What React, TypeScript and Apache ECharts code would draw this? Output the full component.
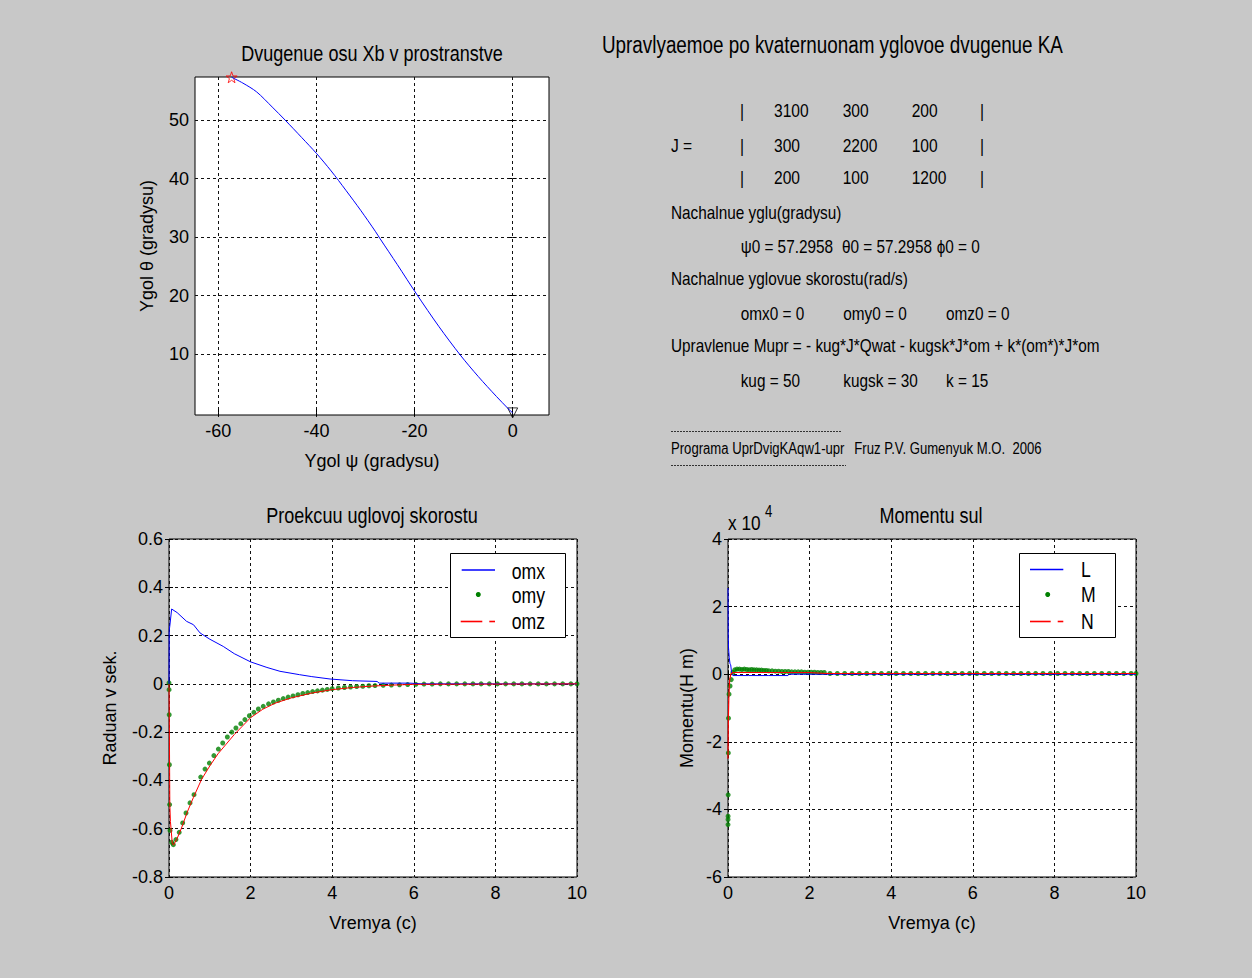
import React, { useEffect, useRef } from "react";
import * as echarts from "echarts";

const FONT = '"Liberation Sans", Arial, sans-serif';
const SX = 0.82; // horizontal condensing of texts (narrow face look)

// ---------- Top-left: trajectory of Xb axis ----------
const psiDeg = [-57.3, -55.0, -52.2, -49.0, -46.4, -43.0, -40.0, -37.0, -34.0, -31.0, -28.0, -27.0, -23.5, -19.6, -15.0, -10.7, -7.0, -3.3, -1.0, 0];
const thetaDeg = [57.3, 56.3, 54.8, 52.2, 50.0, 47.0, 44.3, 41.3, 38.0, 34.6, 31.0, 29.7, 25.3, 20.3, 14.7, 9.9, 6.2, 2.8, 0.8, 0];
const startPoint = [-57.2958, 57.2958];
const endPoint = [0, 0];
const xTicksTL = [-60, -40, -20, 0];
const yTicksTL = [10, 20, 30, 40, 50];

// ---------- Bottom-left: angular velocity projections ----------
const tOmx = [0, 0.005, 0.02, 0.065, 0.2, 0.43, 0.6, 0.76, 1.0, 1.33, 1.6, 2.0, 2.4, 2.72, 3.2, 3.5, 3.95, 4.5, 5.1, 5.15, 5.9, 6.2, 10];
const omx = [0, 0.22, 0.24, 0.31, 0.295, 0.259, 0.245, 0.211, 0.185, 0.155, 0.125, 0.091, 0.068, 0.052, 0.038, 0.03, 0.02, 0.013, 0.01, 0.003, 0.003, 0, 0];

const tOmy = [0, 0.002, 0.005, 0.01, 0.015, 0.025, 0.065, 0.106, 0.17, 0.25, 0.335, 0.417, 0.515, 0.613, 0.777, 0.883, 0.989, 1.1, 1.21, 1.317, 1.43, 1.54, 1.64, 1.76, 1.86, 1.97, 2.08, 2.19, 2.31, 2.44, 2.56, 2.68, 2.8, 2.92, 3.04, 3.16, 3.28, 3.4, 3.52, 3.64, 3.76, 3.88, 4.0, 4.15, 4.3, 4.45, 4.6, 4.75, 4.9, 5.05, 5.25, 5.45, 5.65, 5.85, 6.05, 6.25, 6.45, 6.65, 6.85, 7.05, 7.25, 7.45, 7.65, 7.85, 8.05, 8.25, 8.45, 8.65, 8.85, 9.05, 9.25, 9.45, 9.65, 9.85, 10.0];
const omy = [0.004, -0.024, -0.128, -0.335, -0.5, -0.607, -0.656, -0.666, -0.645, -0.615, -0.576, -0.535, -0.493, -0.459, -0.386, -0.353, -0.328, -0.297, -0.27, -0.245, -0.22, -0.2, -0.183, -0.165, -0.148, -0.132, -0.118, -0.104, -0.093, -0.083, -0.075, -0.068, -0.061, -0.055, -0.05, -0.045, -0.04, -0.036, -0.032, -0.029, -0.026, -0.023, -0.02, -0.017, -0.015, -0.013, -0.011, -0.01, -0.008, -0.007, -0.006, -0.005, -0.004, -0.003, -0.002, -0.001, -0.001, 0, 0, 0, 0, 0, 0, 0, 0, 0, 0, 0, 0, 0, 0, 0, 0, 0, 0];

const tOmz = [0, 0.01, 0.02, 0.035, 0.05, 0.08, 0.11, 0.2, 0.3, 0.45, 0.6, 0.8, 1.0, 1.2, 1.4, 1.6, 1.8, 2.0, 2.3, 2.6, 3.0, 3.5, 4.0, 4.5, 5.0, 5.5, 6.0, 10];
const omz = [0, -0.2, -0.5, -0.57, -0.6, -0.66, -0.668, -0.64, -0.6, -0.53, -0.47, -0.395, -0.34, -0.29, -0.25, -0.21, -0.175, -0.14, -0.105, -0.08, -0.058, -0.038, -0.024, -0.015, -0.009, -0.005, -0.002, 0];

// ---------- Bottom-right: control moments (x 10^4 N m) ----------
const tL = [0, 0.005, 0.012, 0.017, 0.03, 0.05, 0.066, 0.09, 0.12, 0.5, 1.0, 1.47, 1.5, 10];
const momL = [2.55, 1.2, 0.8, 0.78, 0.5, 0.3, 0.28, 0.02, -0.04, -0.04, -0.04, -0.04, 0, 0];

const tM = [0, 0.001, 0.002, 0.004, 0.008, 0.012, 0.025, 0.05, 0.08, 0.12, 0.165, 0.22, 0.28, 0.34, 0.4, 0.46, 0.52, 0.58, 0.64, 0.7, 0.76, 0.82, 0.88, 0.94, 1.0, 1.08, 1.16, 1.24, 1.32, 1.4, 1.48, 1.56, 1.64, 1.72, 1.8, 1.88, 1.96, 2.04, 2.12, 2.2, 2.28, 2.36, 2.5, 2.68, 2.86, 3.04, 3.22, 3.4, 3.58, 3.76, 3.94, 4.12, 4.3, 4.48, 4.66, 4.84, 5.02, 5.2, 5.38, 5.56, 5.74, 5.92, 6.1, 6.28, 6.46, 6.64, 6.82, 7.0, 7.18, 7.36, 7.54, 7.72, 7.9, 8.08, 8.26, 8.44, 8.62, 8.8, 8.98, 9.16, 9.34, 9.52, 9.7, 9.88, 10];
const momM = [-4.45, -4.3, -4.2, -3.57, -2.33, -1.3, -0.59, -0.35, -0.16, 0.05, 0.13, 0.15, 0.15, 0.14, 0.15, 0.14, 0.13, 0.14, 0.13, 0.13, 0.12, 0.12, 0.11, 0.11, 0.1, 0.1, 0.09, 0.09, 0.08, 0.08, 0.08, 0.07, 0.07, 0.07, 0.07, 0.06, 0.06, 0.06, 0.06, 0.05, 0.05, 0.05, 0.02, 0.02, 0.02, 0.02, 0.02, 0.02, 0.02, 0.02, 0.02, 0.02, 0.02, 0.02, 0.02, 0.02, 0.02, 0.02, 0.02, 0.02, 0.02, 0.02, 0.02, 0.02, 0.02, 0.02, 0.02, 0.02, 0.02, 0.02, 0.02, 0.02, 0.02, 0.02, 0.02, 0.02, 0.02, 0.02, 0.02, 0.02, 0.02, 0.02, 0.02, 0.02, 0.02];

const tN = [0, 0.005, 0.01, 0.02, 0.04, 0.07, 0.1, 0.15, 2.0, 2.4, 10];
const momN = [-2.5, -1.75, -1.25, -0.7, -0.17, 0.0, 0.04, 0.05, 0.05, 0.02, 0.02];

const zip = (a: number[], b: number[]) => a.map((v, i) => [v, b[i]]);

const BLUE = "#0000ff";
const GREEN = "#008000";
const RED = "#ff0000";
const TICK = 18;

const gridDash = { type: [3, 3] as any, color: "#111", width: 1 };

function baseAxis(gridIndex: number, extra: any) {
  return {
    type: "value",
    gridIndex,
    axisLine: { show: false },
    axisTick: { show: true, inside: true, length: 4, lineStyle: { color: "#000" } },
    axisLabel: { fontFamily: FONT, fontSize: TICK, color: "#000", margin: 7 },
    splitLine: { show: true, lineStyle: gridDash },
    nameLocation: "middle",
    nameTextStyle: { fontFamily: FONT, fontSize: TICK, color: "#000" },
    ...extra,
  };
}
function mirrorAxis(gridIndex: number, position: string, extra: any) {
  return {
    type: "value",
    gridIndex,
    position,
    axisLine: { show: false },
    axisTick: { show: true, inside: true, length: 4, lineStyle: { color: "#000" } },
    axisLabel: { show: false },
    splitLine: { show: false },
    ...extra,
  };
}

function txt(text: string, x: number, y: number, size: number, extra: any = {}) {
  return {
    type: "text",
    x,
    y,
    scaleX: SX,
    z: 100,
    style: {
      text,
      fill: "#000",
      font: `${size}px ${FONT}`,
      align: "left",
      verticalAlign: "middle",
      ...extra,
    },
  };
}
function seg(x1: number, y1: number, x2: number, y2: number, color: string, width = 1, dash?: number[]) {
  return {
    type: "line",
    z: 100,
    shape: { x1, y1, x2, y2 },
    style: { stroke: color, lineWidth: width, lineDash: dash },
  };
}
function dot(cx: number, cy: number) {
  return { type: "circle", z: 100, shape: { cx, cy, r: 2.5 }, style: { fill: GREEN } };
}

export default function App() {
  const ref = useRef<HTMLDivElement>(null);
  useEffect(() => {
    if (!ref.current) return;
    const chart = echarts.init(ref.current, undefined, { renderer: "svg" });
    const starPath =
      "path://M0,-10 L2.35,-3.24 L9.51,-3.09 L3.8,1.24 L5.88,8.09 L0,4 L-5.88,8.09 L-3.8,1.24 L-9.51,-3.09 L-2.35,-3.24 Z";

    const xTL = { min: -64.76, max: 7.41 };
    const yTL = { min: -0.36, max: 57.34 };
    const xT = { min: 0, max: 10, interval: 2 };
    const yBL = { min: -0.8, max: 0.6, interval: 0.2 };
    const yBR = { min: -6, max: 4, interval: 2 };
    const tickTL = (vals: number[]) => ({ show: true, inside: true, length: 4, lineStyle: { color: "#000" }, customValues: vals });

    const option: any = {
      animation: false,
      backgroundColor: "#c8c8c8",
      textStyle: { fontFamily: FONT },
      grid: [
        { left: 195, top: 77, width: 354, height: 338, show: true, backgroundColor: "#fff", borderColor: "#000", borderWidth: 1 },
        { left: 169, top: 539, width: 408, height: 338, show: true, backgroundColor: "#fff", borderColor: "#000", borderWidth: 1 },
        { left: 728, top: 539, width: 408, height: 338, show: true, backgroundColor: "#fff", borderColor: "#000", borderWidth: 1 },
      ],
      xAxis: [
        baseAxis(0, {
          ...xTL,
          name: "Ygol ψ (gradysu)",
          nameGap: 37,
          axisTick: tickTL(xTicksTL),
          axisLabel: { fontFamily: FONT, fontSize: TICK, color: "#000", margin: 7, customValues: xTicksTL },
        }),
        baseAxis(1, { ...xT, name: "Vremya (c)", nameGap: 37 }),
        baseAxis(2, { ...xT, name: "Vremya (c)", nameGap: 37 }),
        mirrorAxis(0, "top", { ...xTL, axisTick: tickTL(xTicksTL) }),
        mirrorAxis(1, "top", { ...xT }),
        mirrorAxis(2, "top", { ...xT }),
      ],
      yAxis: [
        baseAxis(0, {
          ...yTL,
          name: "Ygol θ (gradysu)",
          nameGap: 39,
          axisTick: tickTL(yTicksTL),
          axisLabel: { fontFamily: FONT, fontSize: TICK, color: "#000", margin: 6, customValues: yTicksTL },
        }),
        baseAxis(1, { ...yBL, name: "Raduan v sek.", nameGap: 50, axisLabel: { fontFamily: FONT, fontSize: TICK, color: "#000", margin: 6 } }),
        baseAxis(2, { ...yBR, name: "Momentu(H m)", nameGap: 32, axisLabel: { fontFamily: FONT, fontSize: TICK, color: "#000", margin: 6 } }),
        mirrorAxis(0, "right", { ...yTL, axisTick: tickTL(yTicksTL) }),
        mirrorAxis(1, "right", { ...yBL }),
        mirrorAxis(2, "right", { ...yBR }),
      ],
      series: [
        {
          type: "line", xAxisIndex: 0, yAxisIndex: 0, data: zip(psiDeg, thetaDeg), showSymbol: false,
          lineStyle: { color: BLUE, width: 1 }, smooth: 0.3,
        },
        {
          type: "scatter", xAxisIndex: 0, yAxisIndex: 0, data: [startPoint], symbol: starPath, symbolSize: 11,
          itemStyle: { color: "transparent", borderColor: RED, borderWidth: 1 },
        },
        {
          type: "scatter", xAxisIndex: 0, yAxisIndex: 0, data: [endPoint], symbol: "triangle", symbolRotate: 180, symbolSize: 10,
          itemStyle: { color: "transparent", borderColor: "#000", borderWidth: 1 }, clip: false,
        },
        // bottom-left
        { type: "line", xAxisIndex: 1, yAxisIndex: 1, data: zip(tOmx, omx), showSymbol: false, lineStyle: { color: BLUE, width: 1 } },
        { type: "scatter", xAxisIndex: 1, yAxisIndex: 1, data: zip(tOmy, omy), symbolSize: 5, itemStyle: { color: GREEN } },
        { type: "line", xAxisIndex: 1, yAxisIndex: 1, data: zip(tOmz, omz), showSymbol: false, lineStyle: { color: RED, width: 1 } },
        // bottom-right
        { type: "line", xAxisIndex: 2, yAxisIndex: 2, data: zip(tL, momL), showSymbol: false, lineStyle: { color: BLUE, width: 1 } },
        { type: "scatter", xAxisIndex: 2, yAxisIndex: 2, data: zip(tM, momM), symbolSize: 5, itemStyle: { color: GREEN } },
        { type: "line", xAxisIndex: 2, yAxisIndex: 2, data: zip(tN, momN), showSymbol: false, lineStyle: { color: RED, width: 1.2 } },
      ],
      graphic: [
        // plot titles
        txt("Dvugenue osu Xb v prostranstve", 372, 53, 22, { align: "center" }),
        txt("Proekcuu uglovoj skorostu", 372, 515, 22, { align: "center" }),
        txt("Momentu sul", 931, 515, 22, { align: "center" }),
        txt("x 10", 728, 523, 21),
        txt("4", 765, 512, 16),
        // info block
        txt("Upravlyaemoe po kvaternuonam yglovoe dvugenue KA", 602, 45, 23),
        txt("|", 740, 110, 19), txt("3100", 774, 110, 19), txt("300", 842.7, 110, 19), txt("200", 911.7, 110, 19), txt("|", 980, 110, 19),
        txt("J =", 671, 145, 19),
        txt("|", 740, 145, 19), txt("300", 774, 145, 19), txt("2200", 842.7, 145, 19), txt("100", 911.7, 145, 19), txt("|", 980, 145, 19),
        txt("|", 740, 177, 19), txt("200", 774, 177, 19), txt("100", 842.7, 177, 19), txt("1200", 911.7, 177, 19), txt("|", 980, 177, 19),
        txt("Nachalnue yglu(gradysu)", 671, 212.7, 18.7),
        txt("ψ0 = 57.2958", 740.7, 246.7, 18.7), txt("θ0 = 57.2958", 842, 246.7, 18.7), txt("ϕ0 = 0", 936.7, 246.7, 18.7),
        txt("Nachalnue yglovue skorostu(rad/s)", 671, 279.3, 18.7),
        txt("omx0 = 0", 740.7, 314, 18.7), txt("omy0 = 0", 843.3, 314, 18.7), txt("omz0 = 0", 946, 314, 18.7),
        txt("Upravlenue Mupr = - kug*J*Qwat - kugsk*J*om + k*(om*)*J*om", 671, 346, 18.7),
        txt("kug = 50", 740.7, 380.7, 18.7), txt("kugsk = 30", 843.3, 380.7, 18.7), txt("k = 15", 946, 380.7, 18.7),
        seg(671, 431.5, 842, 431.5, "#333", 1, [2, 1]),
        txt("Programa UprDvigKAqw1-upr", 671, 448.3, 16),
        txt("Fruz P.V. Gumenyuk M.O.  2006", 854.3, 448.3, 16),
        seg(671, 465.5, 846, 465.5, "#333", 1, [2, 1]),
        // legend bottom-left
        { type: "rect", z: 99, shape: { x: 450.5, y: 553.5, width: 115, height: 84 }, style: { fill: "#fff", stroke: "#000", lineWidth: 1 } },
        seg(461.7, 570, 495, 570, BLUE, 1.6),
        dot(478.3, 594.5),
        seg(460.7, 621.5, 482.3, 621.5, RED, 1.6),
        seg(489.3, 621.5, 495, 621.5, RED, 1.6),
        txt("omx", 511.7, 571, 21.5), txt("omy", 511.7, 595, 21.5), txt("omz", 511.7, 621.7, 21.5),
        // legend bottom-right
        { type: "rect", z: 99, shape: { x: 1019.5, y: 553.5, width: 96, height: 84 }, style: { fill: "#fff", stroke: "#000", lineWidth: 1 } },
        seg(1030, 569.5, 1063.3, 569.5, BLUE, 1.6),
        dot(1047.7, 594.5),
        seg(1030, 621.5, 1050.7, 621.5, RED, 1.6),
        seg(1057.7, 621.5, 1063.3, 621.5, RED, 1.6),
        txt("L", 1081, 569.5, 21.5), txt("M", 1081, 594.5, 21.5), txt("N", 1081, 621.5, 21.5),
      ],
    };
    chart.setOption(option);
    return () => chart.dispose();
  }, []);
  return (
    <div
      ref={ref}
      style={{ position: "absolute", left: 0, top: 0, width: 1252, height: 978 }}
    />
  );
}
